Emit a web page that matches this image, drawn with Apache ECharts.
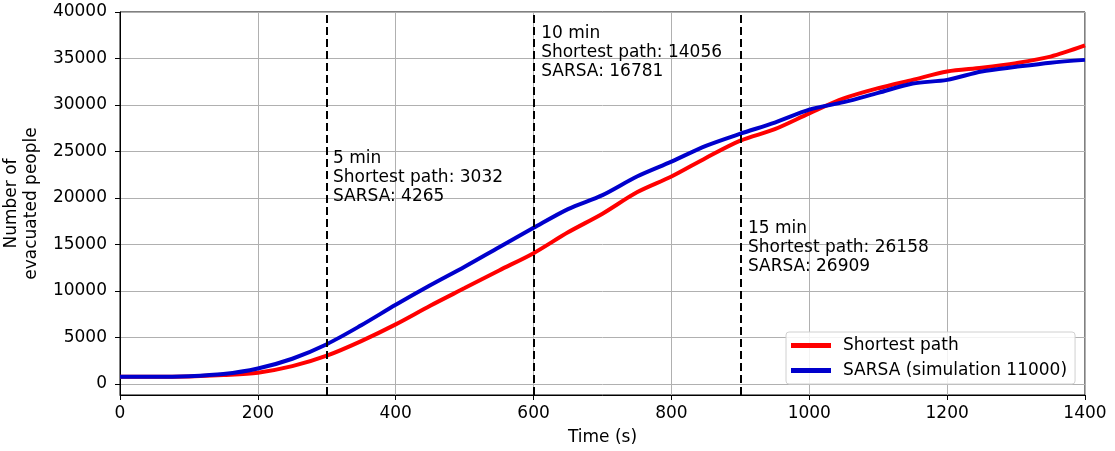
<!DOCTYPE html>
<html>
<head>
<meta charset="utf-8">
<title>Evacuated people over time</title>
<script src="https://cdn.jsdelivr.net/npm/echarts@6/dist/echarts.min.js"></script>
<style>
  html, body { margin: 0; padding: 0; background: #fff; }
  #chart { width: 1115px; height: 451px; }
</style>
</head>
<body>
<div id="chart"></div>
<script>
// time (s)
var timeData = [0, 50, 100, 150, 200, 250, 300, 350, 400, 450, 500, 550, 600, 650, 700,
  750, 800, 850, 900, 950, 1000, 1050, 1100, 1150, 1200, 1250, 1300, 1350, 1400]
// shortest path
var shortestData = [750, 750, 800, 950, 1200, 1900, 3032, 4600, 6400, 8400, 10300, 12200, 14056, 16300, 18300,
  20600, 22300, 24300, 26158, 27400, 29100, 30700, 31800, 32700, 33600, 34000, 34500, 35200, 36400]
// SARSA
var sarsaData = [750, 750, 820, 1050, 1650, 2700, 4265, 6300, 8500, 10600, 12600, 14700, 16781, 18800, 20300,
  22300, 23900, 25600, 26909, 28100, 29500, 30300, 31300, 32300, 32700, 33600, 34100, 34550, 34850]
var yTicks = [0, 5000, 10000, 15000, 20000, 25000, 30000, 35000, 40000]
// 竖线位置 5/10/15 min
var markTimes = [300, 600, 900]
var markTexts = [
  '5 min\nShortest path: 3032\nSARSA: 4265',
  '10 min\nShortest path: 14056\nSARSA: 16781',
  '15 min\nShortest path: 26158\nSARSA: 26909'
]
var textAnchors = [[309, 25300], [611, 38700], [911, 17700]]

var font = 'DejaVu Sans'
var plain = function (v) { return String(v) }
var makeSeries = function (name, data, color) {
  return {
    name: name,
    type: 'line',
    data: timeData.map(function (t, i) { return [t, data[i]] }),
    showSymbol: false,
    smooth: 0.3,
    lineStyle: { color: color, width: 4 },
    itemStyle: { color: color }
  }
}

var mCharts = echarts.init(document.getElementById('chart'))
var option = {
  animation: false,
  textStyle: { fontFamily: font },
  grid: {
    left: 120, right: 30, top: 12, bottom: 56,
    outerBoundsMode: 'none',
    containLabel: false,
    show: true, borderColor: '#000', borderWidth: 1
  },
  legend: {
    data: ['Shortest path', 'SARSA (simulation 11000)'],
    orient: 'vertical',
    left: 786, top: 332,
    icon: 'rect',
    itemWidth: 40, itemHeight: 5, itemGap: 8,
    padding: [5, 8, 5, 5],
    backgroundColor: 'rgba(255,255,255,0.85)',
    borderColor: '#d0d0d0', borderWidth: 1, borderRadius: 3,
    textStyle: { fontSize: 17, color: '#000', fontFamily: font, padding: [0, 0, 0, 7] }
  },
  xAxis: {
    type: 'value',
    min: 0, max: 1400, interval: 200,
    name: 'Time (s)',
    nameLocation: 'middle', nameGap: 34,
    nameTextStyle: { fontSize: 17, color: '#000', fontFamily: font },
    axisLine: { onZero: false, lineStyle: { color: '#000', width: 1 } },
    axisTick: { show: true, length: 5, lineStyle: { color: '#000' } },
    axisLabel: { fontSize: 17, color: '#000', margin: 10, fontFamily: font, formatter: plain },
    splitLine: { show: true, lineStyle: { color: '#b0b0b0', width: 1 } }
  },
  yAxis: {
    type: 'value',
    min: -1200, max: 40000,
    name: 'Number of\nevacuated people',
    nameLocation: 'middle', nameGap: 78, nameRotate: 90,
    nameTextStyle: { fontSize: 17, color: '#000', lineHeight: 20, fontFamily: font },
    axisLine: { show: true, onZero: false, lineStyle: { color: '#000', width: 1 } },
    axisTick: { show: true, length: 5, customValues: yTicks, lineStyle: { color: '#000' } },
    axisLabel: { fontSize: 17, color: '#000', margin: 13, customValues: yTicks, fontFamily: font, formatter: plain },
    splitLine: { show: true, lineStyle: { color: '#b0b0b0', width: 1 } }
  },
  series: [
    makeSeries('Shortest path', shortestData, '#ff0000'),
    makeSeries('SARSA (simulation 11000)', sarsaData, '#0000cc'),
    {
      name: 'marks',
      type: 'line',
      data: [],
      z: 5,
      markLine: {
        silent: true,
        symbol: ['none', 'none'],
        label: { show: false },
        lineStyle: { color: '#000', width: 2, type: [8, 4] },
        data: markTimes.map(function (t) { return { xAxis: t } })
      },
      markPoint: {
        silent: true,
        symbolSize: 0,
        data: textAnchors.map(function (c, i) {
          return {
            coord: c,
            label: {
              show: true,
              formatter: markTexts[i],
              position: [0, 0],
              align: 'left',
              verticalAlign: 'top',
              fontSize: 17,
              lineHeight: 19,
              color: '#000',
              fontFamily: font
            }
          }
        })
      }
    }
  ]
}
mCharts.setOption(option)
</script>
</body>
</html>
